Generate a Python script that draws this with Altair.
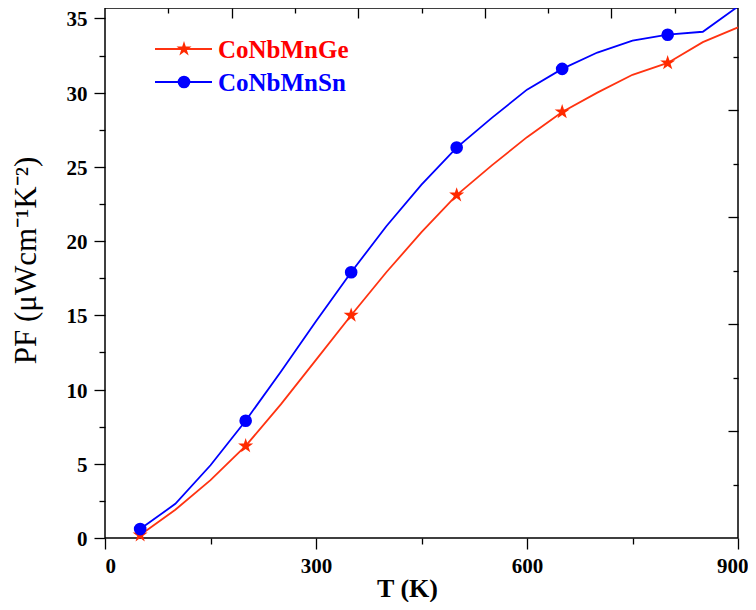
import altair as alt
import pandas as pd

# ---- data ----
T = [50, 100, 150, 200, 250, 300, 350, 400, 450, 500, 550, 600, 650, 700, 750, 800, 850, 900]
pf_ge = [0.2, 1.9, 3.9, 6.2, 9.0, 12.0, 15.0, 17.9, 20.6, 23.1, 25.1, 27.0, 28.7, 30.0, 31.2, 32.0, 33.4, 34.4]
pf_sn = [0.6, 2.3, 4.9, 7.9, 11.2, 14.6, 17.9, 21.0, 23.8, 26.3, 28.3, 30.2, 31.6, 32.7, 33.5, 33.9, 34.1, 35.8]
marker_T = [50, 200, 350, 500, 650, 800]
series_names = ["CoNbMnGe", "CoNbMnSn"]

x_major = [0, 300, 600]
x_end = [900]
x_minor = [150, 450, 750]
y_major = [0, 5, 10, 15, 20, 25, 30, 35]
y_minor = [2.5, 7.5, 12.5, 17.5, 22.5, 27.5, 32.5]
top_major = [180, 360, 540, 720]
top_minor = [90, 270, 450, 630, 810]
right_major = [7.2, 14.4, 21.6, 28.8]
right_minor = [3.6, 10.8, 18.0, 25.2, 32.4]

rows = []
for name, vals in zip(series_names, [pf_ge, pf_sn]):
    for t, v in zip(T, vals):
        rows.append({"T": t, "PF": v, "series": name, "marker": 1 if t in marker_T else 0})
df = pd.DataFrame(rows)

W, H = 633, 530
YMAX = 35.7
FONT = "Liberation Serif"
line_colors = ["#ff3311", "#0000ff"]
marker_colors = ["#ff2a00", "#0000ff"]
text_colors = ["#ff0000", "#0000ff"]
STAR = ("M0,-1L0.225,-0.309L0.951,-0.309L0.363,0.118L0.588,0.809L0,0.382"
        "L-0.588,0.809L-0.363,0.118L-0.951,-0.309L-0.225,-0.309Z")
STAR_SIZE = 250
CIRCLE_SIZE = 160

xs = alt.Scale(domain=[0, 900], nice=False, zero=False)
ys = alt.Scale(domain=[0, YMAX], nice=False, zero=False)
cs = alt.Scale(domain=series_names, range=line_colors)

base = alt.Chart(df)


def ax(**kw):
    d = dict(labels=False, title=None)
    d.update(kw)
    return alt.Axis(**d)


lines = base.mark_line(strokeWidth=1.8).encode(
    x=alt.X("T:Q", scale=xs, axis=alt.Axis(
        orient="bottom", values=x_major, tickSize=11, labelPadding=6,
        title="T (K)", titleFontSize=26, titleFontWeight="bold",
        titleX=302, titleY=58, titleAlign="center", titleBaseline="alphabetic")),
    y=alt.Y("PF:Q", scale=ys, axis=alt.Axis(
        orient="left", values=y_major, tickSize=11, labelPadding=7, labelOffset=1.5,
        title="PF (\u03bcWcm\u207b\u00b9K\u207b\u00b2)", titleFontSize=31, titleFontWeight="normal",
        titleAngle=270, titleX=-70, titleY=252, titleAlign="center", titleBaseline="alphabetic")),
    color=alt.Color("series:N", scale=cs, legend=None),
)

stars = base.transform_filter(
    (alt.datum.series == series_names[0]) & (alt.datum.marker == 1)
).mark_point(shape=STAR, filled=True, size=STAR_SIZE, opacity=1, color=marker_colors[0]).encode(
    x=alt.X("T:Q", scale=xs, axis=ax(orient="bottom", values=x_minor, tickSize=6)),
    y=alt.Y("PF:Q", scale=ys, axis=ax(orient="left", values=y_minor, tickSize=6)),
)

circles = base.transform_filter(
    (alt.datum.series == series_names[1]) & (alt.datum.marker == 1)
).mark_circle(size=CIRCLE_SIZE, opacity=1, color=marker_colors[1]).encode(
    x=alt.X("T:Q", scale=xs, axis=alt.Axis(orient="bottom", values=x_end, tickSize=11, labelPadding=6,
                                          labelFlush=1, labelFlushOffset=10, title=None)),
    y=alt.Y("PF:Q", scale=ys, axis=ax(orient="right", offset=-10, values=right_major, tickSize=10)),
)

# invisible carriers for the inward ticks on the top and right edges
carrier = base.mark_point(opacity=0).encode(
    x=alt.X("T:Q", scale=xs, axis=ax(orient="top", offset=-10, values=top_major, tickSize=10)),
    y=alt.Y("PF:Q", scale=ys, axis=ax(orient="right", offset=-5, values=right_minor, tickSize=5)),
)
carrier2 = base.mark_point(opacity=0).encode(
    x=alt.X("T:Q", scale=xs, axis=ax(orient="top", offset=-5, values=top_minor, tickSize=5)),
    y=alt.Y("PF:Q", scale=ys, axis=None),
)

# legend in the upper-left of the plot, as in the reference
legend_layers = []
for i, name in enumerate(series_names):
    ld = alt.Chart(pd.DataFrame({"series": [name]}))
    yy = 41 + 33 * i
    legend_layers.append(ld.mark_rule(strokeWidth=1.8, color=line_colors[i]).encode(
        x=alt.value(50), x2=alt.value(107), y=alt.value(yy)))
    if i == 0:
        legend_layers.append(ld.mark_point(shape=STAR, filled=True, size=STAR_SIZE, opacity=1,
                                           color=marker_colors[i]).encode(x=alt.value(79), y=alt.value(yy)))
    else:
        legend_layers.append(ld.mark_circle(size=CIRCLE_SIZE, opacity=1,
                                            color=marker_colors[i]).encode(x=alt.value(79), y=alt.value(yy)))
    legend_layers.append(ld.mark_text(align="left", baseline="middle", fontSize=25, fontWeight="bold",
                                      font=FONT, color=text_colors[i], dy=1).encode(
        x=alt.value(113), y=alt.value(yy), text="series:N"))

chart = alt.layer(lines, stars, circles, carrier, carrier2, *legend_layers).resolve_axis(
    x="independent", y="independent"
).properties(
    width=W, height=H, autosize="none",
    padding={"left": 97, "top": 0, "right": 10, "bottom": 64},
).configure_view(
    stroke="black", strokeWidth=1.5
).configure_axis(
    labelFont=FONT, titleFont=FONT, labelFontSize=21, labelFontWeight="bold",
    labelColor="black", titleColor="black", tickColor="black", tickWidth=1.3,
    domain=False, grid=False,
)

chart.save("out.html", embed_options={"renderer": "svg", "actions": False})
